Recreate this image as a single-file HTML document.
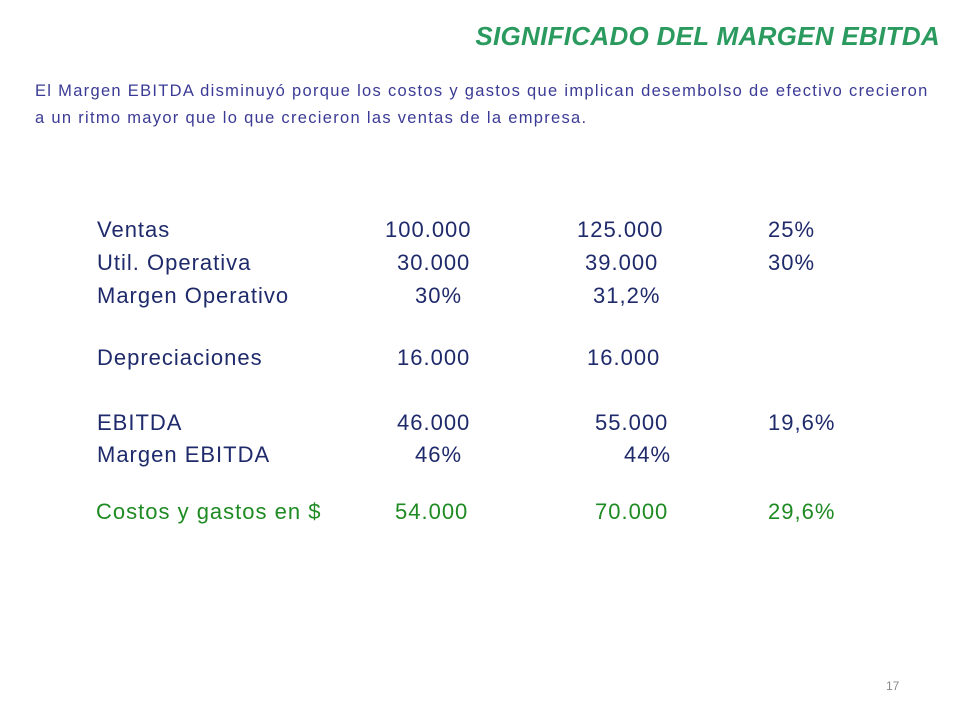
<!DOCTYPE html>
<html>
<head>
<meta charset="utf-8">
<style>
  html,body{margin:0;padding:0;background:#fff;}
  #slide{position:relative;width:960px;height:720px;overflow:hidden;font-family:"Liberation Sans",sans-serif;}
  .t{position:absolute;white-space:nowrap;line-height:1;}
  #title{right:20px;top:23px;font-size:26px;font-weight:bold;font-style:italic;color:#2a9a5e;letter-spacing:0.3px;}
  .body{left:35px;font-size:16.5px;letter-spacing:1.3px;color:#3b3b96;}
  .row{font-size:22px;letter-spacing:1px;color:#1f2a6b;}
  .green{color:#1e8a22;}
  #pg{left:886px;top:680px;font-size:12px;color:#8a8a8a;}
</style>
</head>
<body>
<div id="slide">
  <div class="t" id="title">SIGNIFICADO DEL MARGEN EBITDA</div>
  <div class="t body" style="top:83px">El Margen EBITDA disminuyó porque los costos y gastos que implican desembolso de efectivo crecieron</div>
  <div class="t body" style="top:110px">a un ritmo mayor que lo que crecieron las ventas de la empresa.</div>

  <div>
    <div class="t row" style="left:97px;top:219px">Ventas</div>
    <div class="t row" style="left:385px;top:219px">100.000</div>
    <div class="t row" style="left:577px;top:219px">125.000</div>
    <div class="t row" style="left:768px;top:219px">25%</div>

    <div class="t row" style="left:97px;top:252px">Util. Operativa</div>
    <div class="t row" style="left:397px;top:252px">30.000</div>
    <div class="t row" style="left:585px;top:252px">39.000</div>
    <div class="t row" style="left:768px;top:252px">30%</div>

    <div class="t row" style="left:97px;top:285px">Margen Operativo</div>
    <div class="t row" style="left:415px;top:285px">30%</div>
    <div class="t row" style="left:593px;top:285px">31,2%</div>

    <div class="t row" style="left:97px;top:347px">Depreciaciones</div>
    <div class="t row" style="left:397px;top:347px">16.000</div>
    <div class="t row" style="left:587px;top:347px">16.000</div>

    <div class="t row" style="left:97px;top:412px">EBITDA</div>
    <div class="t row" style="left:397px;top:412px">46.000</div>
    <div class="t row" style="left:595px;top:412px">55.000</div>
    <div class="t row" style="left:768px;top:412px">19,6%</div>

    <div class="t row" style="left:97px;top:444px">Margen EBITDA</div>
    <div class="t row" style="left:415px;top:444px">46%</div>
    <div class="t row" style="left:624px;top:444px">44%</div>

    <div class="t row green" style="left:96px;top:501px">Costos y gastos en $</div>
    <div class="t row green" style="left:395px;top:501px">54.000</div>
    <div class="t row green" style="left:595px;top:501px">70.000</div>
    <div class="t row green" style="left:768px;top:501px">29,6%</div>
  </div>

  <div class="t" id="pg">17</div>
</div>
</body>
</html>
